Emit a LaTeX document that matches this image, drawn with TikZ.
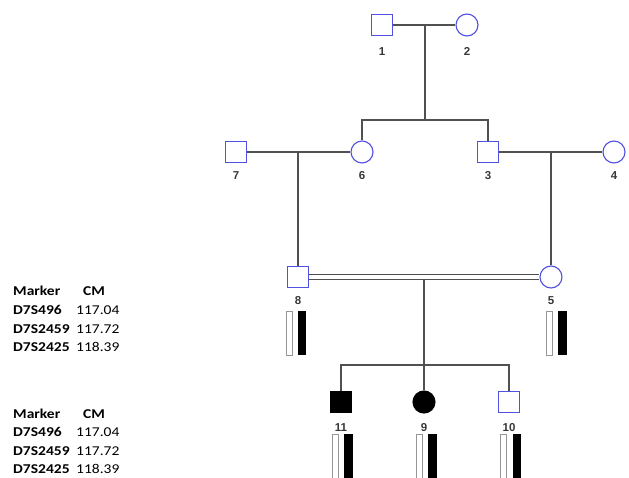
\documentclass[tikz,border=0pt]{standalone}
\usepackage{fontspec}
\newfontfamily\legfont[FakeStretch=1.15]{Carlito}
\newfontfamily\idfont{Liberation Sans}
\usepackage{xcolor}
\usepackage{tikz}
\usetikzlibrary{positioning}
\definecolor{pedblue}{RGB}{80,80,225}
\definecolor{pedline}{RGB}{80,80,80}
\definecolor{idgray}{RGB}{55,55,55}
\tikzset{
    male/.style={rectangle,draw=pedblue,line width=1.1pt,fill=white,
                 minimum size=21pt,inner sep=0pt},
    female/.style={circle,draw=pedblue,line width=1.1pt,fill=white,
                 minimum size=22pt,inner sep=0pt},
    affmale/.style={male,draw=black,fill=black},
    afffemale/.style={female,draw=black,fill=black},
    pline/.style={draw=pedline,line width=1.2pt},
    idlab/.style={font=\idfont\bfseries\fontsize{11.5}{12}\selectfont,
                  text=idgray,inner sep=0pt},
    wbar/.style={rectangle,draw=pedline!60,line width=0.8pt,fill=white,
                 minimum width=6pt,inner sep=0pt,anchor=north},
    bbar/.style={rectangle,fill=black,minimum width=8.5pt,inner sep=0pt,anchor=north},
}

\begin{document}
\begin{tikzpicture}[
    x=1pt,y=-1pt,
    leghead/.style={font=\legfont\bfseries\fontsize{13.5}{14}\selectfont,
                    inner sep=0pt,anchor=base west},
    legmk/.style={leghead},
    legcm/.style={font=\legfont\fontsize{13.5}{14}\selectfont,
                  inner sep=0pt,anchor=base west},
]
\useasboundingbox (0,0) rectangle (629,478);

% generation I
\node[male]   (p1) at (382,25) {};
\node[female] (p2) at (467,25) {};
\node[idlab,below=11pt of p1] (l1) {1};
\node[idlab,below=11pt of p2] (l2) {2};

% generation II
\node[male]   (p7) at (236,152) {};
\node[female] (p6) at (362,152) {};
\node[male]   (p3) at (488,152) {};
\node[female] (p4) at (614,152) {};
\node[idlab,below=8pt of p7] (l7) {7};
\node[idlab,below=8pt of p6] (l6) {6};
\node[idlab,below=8pt of p3] (l3) {3};
\node[idlab,below=8pt of p4] (l4) {4};

% generation III
\node[male]   (p8) at (298,277) {};
\node[female] (p5) at (551,277) {};
\node[idlab,below=8pt of p8] (l8) {8};
\node[idlab,below=8pt of p5] (l5) {5};

% generation IV
\node[affmale]   (p11) at (341,402) {};
\node[afffemale] (p9)  at (424,402) {};
\node[male]      (p10) at (509,402) {};
\node[idlab,below=10pt of p11] (l11) {11};
\node[idlab,below=10pt of p9]  (l9)  {9};
\node[idlab,below=10pt of p10] (l10) {10};

% junctions
\coordinate (m12)  at (425,25);
\coordinate (sib1) at (425,120);
\coordinate (m76)  at (298,152);
\coordinate (m34)  at (551,152);
\coordinate (m85)  at (424,277);
\coordinate (sib3) at (424,365);

% lines of descent
\draw[pline] (p1) -- (p2);
\draw[pline] (m12) -- (sib1);
\draw[pline] (p6.north) |- (sib1) -| (p3.north);
\draw[pline] (p7) -- (p6);
\draw[pline] (p3) -- (p4);
\draw[pline] (m76) -- (p8.north);
\draw[pline] (m34) -- (p5.north);
\draw[pline] (m85) -- (p9.north);
\draw[pline] (p11.north) |- (sib3) -| (p10.north);
\draw[pline,double=white,double distance=4.2pt] (p8) -- (p5);

% haplotype bars
\node[wbar,minimum height=44pt] (h8w)  at (289,311) {};
\node[bbar,minimum height=44pt] (h8b)  at (302,311) {};
\node[wbar,minimum height=44pt] (h5w)  at (549,311) {};
\node[bbar,minimum height=44pt] (h5b)  at (562.5,311) {};
\node[wbar,minimum height=48pt] (h11w) at (335,434) {};
\node[bbar,minimum height=48pt] (h11b) at (348.5,434) {};
\node[wbar,minimum height=48pt] (h9w)  at (419.5,434) {};
\node[bbar,minimum height=48pt] (h9b)  at (432.5,434) {};
\node[wbar,minimum height=48pt] (h10w) at (503.5,434) {};
\node[bbar,minimum height=48pt] (h10b) at (517,434) {};

% marker tables
\foreach \by/\bk in {296/a,418/b}{
  \node[leghead] (mk\bk) at (13,\by) {Marker};
  \node[leghead] (cm\bk) at (83,\by) {CM};
  \foreach \mk/\cmv [count=\i] in {D7S496/117.04,D7S2459/117.72,D7S2425/118.39}{
    \node[legmk] (mk\bk\i) at (13,\by+18.5*\i) {\mk};
    \node[legcm] (cm\bk\i) at (76,\by+18.5*\i) {\cmv};
  }
}
\end{tikzpicture}
\end{document}
